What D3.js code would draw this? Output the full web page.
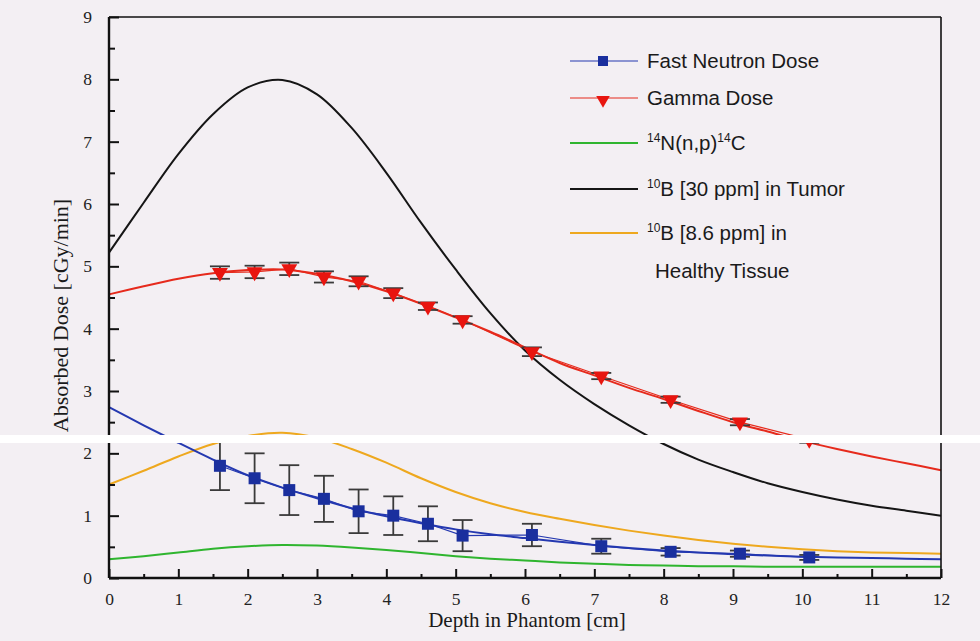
<!DOCTYPE html>
<html>
<head>
<meta charset="utf-8">
<script src="https://cdn.jsdelivr.net/npm/d3@7"></script>
<style>
  body { margin: 0; background: #f3eff3; }
  svg { display: block; }
</style>
</head>
<body>
<svg id="chart"></svg>
<script>
// depth grid for the fitted curves (cm)
var depthGrid = [0, 0.5, 1, 1.5, 2, 2.5, 3, 3.5, 4, 4.5, 5, 5.5, 6, 6.5, 7, 7.5, 8, 8.5, 9, 9.5, 10, 10.5, 11, 11.5, 12];

var tumorB10   = [5.22, 6.02, 6.8, 7.44, 7.87, 7.99, 7.76, 7.22, 6.5, 5.7, 4.95, 4.25, 3.65, 3.18, 2.79, 2.45, 2.15, 1.9, 1.7, 1.52, 1.38, 1.26, 1.16, 1.08, 1.0];
var healthyB10 = [1.5, 1.72, 1.95, 2.15, 2.28, 2.33, 2.25, 2.07, 1.85, 1.6, 1.38, 1.2, 1.06, 0.95, 0.85, 0.76, 0.68, 0.61, 0.55, 0.5, 0.46, 0.43, 0.41, 0.4, 0.39];
var nitrogen   = [0.3, 0.35, 0.41, 0.47, 0.51, 0.53, 0.52, 0.49, 0.45, 0.4, 0.35, 0.31, 0.28, 0.25, 0.23, 0.21, 0.2, 0.19, 0.19, 0.18, 0.18, 0.18, 0.18, 0.18, 0.18];
var neutronFit = [2.74, 2.45, 2.17, 1.9, 1.65, 1.45, 1.28, 1.12, 0.99, 0.88, 0.78, 0.7, 0.64, 0.58, 0.53, 0.48, 0.44, 0.41, 0.38, 0.36, 0.34, 0.33, 0.32, 0.31, 0.3];
var gammaFit   = [4.55, 4.68, 4.8, 4.89, 4.94, 4.95, 4.88, 4.76, 4.6, 4.4, 4.18, 3.95, 3.7, 3.45, 3.25, 3.05, 2.87, 2.68, 2.5, 2.35, 2.2, 2.07, 1.95, 1.84, 1.73];

// measured points
var measDepth   = [1.6, 2.1, 2.6, 3.1, 3.6, 4.1, 4.6, 5.1, 6.1, 7.1, 8.1, 9.1, 10.1];
var neutronMeas = [1.8, 1.6, 1.41, 1.27, 1.07, 1.0, 0.87, 0.68, 0.69, 0.51, 0.42, 0.39, 0.33];
var neutronErr  = [0.39, 0.4, 0.4, 0.37, 0.35, 0.31, 0.28, 0.25, 0.18, 0.12, 0.06, 0.05, 0.04];
var gammaMeas   = [4.9, 4.91, 4.96, 4.83, 4.76, 4.57, 4.36, 4.14, 3.63, 3.24, 2.86, 2.5, 2.22];
var gammaErr    = [0.1, 0.1, 0.1, 0.09, 0.08, 0.08, 0.06, 0.06, 0.07, 0.05, 0.05, 0.05, 0.05];

var xTicks = [0, 1, 2, 3, 4, 5, 6, 7, 8, 9, 10, 11, 12];
var yTicks = [0, 1, 2, 3, 4, 5, 6, 7, 8, 9];

var width = 980, height = 641;
var margin = {top: 17, right: 39, bottom: 63, left: 109};

var svg = d3.select("#chart").attr("width", width).attr("height", height);

var x = d3.scaleLinear().domain([0, 12]).range([margin.left, width - margin.right]);
var y = d3.scaleLinear().domain([0, 9]).range([height - margin.bottom, margin.top]);

var serif = "'Liberation Serif', 'DejaVu Serif', serif";
var sans = "'Liberation Sans', Arial, sans-serif";

var colors = {
  neutron: "#2438b0",
  gamma: "#e62a1c",
  nitrogen: "#2fb52f",
  tumor: "#151515",
  healthy: "#eea81e"
};

// curves
var line = d3.line()
  .x(function(d) { return x(d[0]); })
  .y(function(d) { return y(d[1]); })
  .curve(d3.curveCatmullRom.alpha(0.5));

function pairs(xs, ys) {
  return xs.map(function(v, i) { return [v, ys[i]]; });
}

var curves = svg.append("g");
curves.append("path").datum(pairs(depthGrid, nitrogen))
  .attr("fill", "none").attr("stroke", colors.nitrogen).attr("stroke-width", 2).attr("d", line);
curves.append("path").datum(pairs(depthGrid, healthyB10))
  .attr("fill", "none").attr("stroke", colors.healthy).attr("stroke-width", 2).attr("d", line);
curves.append("path").datum(pairs(depthGrid, tumorB10))
  .attr("fill", "none").attr("stroke", colors.tumor).attr("stroke-width", 2).attr("d", line);
curves.append("path").datum(pairs(depthGrid, gammaFit))
  .attr("fill", "none").attr("stroke", colors.gamma).attr("stroke-width", 2).attr("d", line);
curves.append("path").datum(pairs(depthGrid, neutronFit))
  .attr("fill", "none").attr("stroke", colors.neutron).attr("stroke-width", 2).attr("d", line);

// measured series: connecting lines
var straight = d3.line()
  .x(function(d) { return x(d[0]); })
  .y(function(d) { return y(d[1]); });
curves.append("path").datum(pairs(measDepth, gammaMeas))
  .attr("fill", "none").attr("stroke", colors.gamma).attr("stroke-width", 1.2).attr("d", straight);
curves.append("path").datum(pairs(measDepth, neutronMeas))
  .attr("fill", "none").attr("stroke", colors.neutron).attr("stroke-width", 1.2).attr("d", straight);

// error bars
function errorBars(vals, errs, capW, col) {
  var g = svg.append("g").attr("stroke", col).attr("stroke-width", 1.8);
  measDepth.forEach(function(d, i) {
    var cx = x(d), y1 = y(vals[i] + errs[i]), y2 = y(vals[i] - errs[i]);
    g.append("line").attr("x1", cx).attr("x2", cx).attr("y1", y1).attr("y2", y2);
    g.append("line").attr("x1", cx - capW / 2).attr("x2", cx + capW / 2).attr("y1", y1).attr("y2", y1);
    g.append("line").attr("x1", cx - capW / 2).attr("x2", cx + capW / 2).attr("y1", y2).attr("y2", y2);
  });
}
errorBars(neutronMeas, neutronErr, 20, "#3a3a3a");
errorBars(gammaMeas, gammaErr, 20, "#3a3a3a");

// markers
svg.append("g").selectAll("rect")
  .data(measDepth)
  .join("rect")
  .attr("x", function(d) { return x(d) - 6; })
  .attr("y", function(d, i) { return y(neutronMeas[i]) - 6; })
  .attr("width", 12).attr("height", 12)
  .attr("fill", "#1a2f9e");

var tri = d3.symbol().type(d3.symbolTriangle).size(110);
svg.append("g").selectAll("path")
  .data(measDepth)
  .join("path")
  .attr("d", tri)
  .attr("transform", function(d, i) { return "translate(" + x(d) + "," + y(gammaMeas[i]) + ") rotate(180)"; })
  .attr("fill", "#e8150f");

// frame
var frame = svg.append("g").attr("fill", "none").attr("stroke", "#111");
frame.append("line").attr("x1", x(0)).attr("x2", x(12)).attr("y1", y(9)).attr("y2", y(9)).attr("stroke-width", 1.6);
frame.append("line").attr("x1", x(12)).attr("x2", x(12)).attr("y1", y(9)).attr("y2", y(0)).attr("stroke-width", 1.6);
frame.append("line").attr("x1", x(0)).attr("x2", x(0)).attr("y1", y(9)).attr("y2", y(0)).attr("stroke-width", 2.4);
frame.append("line").attr("x1", x(0)).attr("x2", x(12)).attr("y1", y(0)).attr("y2", y(0)).attr("stroke-width", 2.4);

// axes, ticks pointing inward
var xAxis = d3.axisBottom(x).tickValues(xTicks).tickSize(-9).tickPadding(15).tickFormat(d3.format("d"));
var gx = svg.append("g").attr("transform", "translate(0," + y(0) + ")").call(xAxis);
gx.select(".domain").remove();
gx.selectAll(".tick line").attr("stroke", "#111").attr("stroke-width", 2);
gx.selectAll("text").attr("font-family", serif).attr("font-size", 17.5).attr("fill", "#222");
svg.append("g").attr("transform", "translate(0," + y(0) + ")")
  .call(d3.axisBottom(x).tickValues(d3.range(0.5, 12, 1)).tickSize(-4).tickFormat(""))
  .call(function(g) { g.select(".domain").remove(); g.selectAll("line").attr("stroke", "#111").attr("stroke-width", 2); });

var yAxis = d3.axisLeft(y).tickValues(yTicks).tickSize(-10).tickPadding(17).tickFormat(d3.format("d"));
var gy = svg.append("g").attr("transform", "translate(" + x(0) + ",0)").call(yAxis);
gy.select(".domain").remove();
gy.selectAll(".tick line").attr("stroke", "#111").attr("stroke-width", 2);
gy.selectAll("text").attr("font-family", serif).attr("font-size", 17.5).attr("fill", "#222");
svg.append("g").attr("transform", "translate(" + x(0) + ",0)")
  .call(d3.axisLeft(y).tickValues(d3.range(0.5, 9, 1)).tickSize(-6).tickFormat(""))
  .call(function(g) { g.select(".domain").remove(); g.selectAll("line").attr("stroke", "#111").attr("stroke-width", 2); });

// axis titles
svg.append("text")
  .attr("x", (x(0) + x(12)) / 2 + 2).attr("y", 627)
  .attr("text-anchor", "middle")
  .attr("font-family", serif).attr("font-size", 21).attr("fill", "#1a1a1a")
  .text("Depth in Phantom [cm]");
svg.append("text")
  .attr("transform", "translate(68," + ((y(0) + y(9)) / 2 + 18) + ") rotate(-90)")
  .attr("text-anchor", "middle")
  .attr("font-family", serif).attr("font-size", 22).attr("fill", "#1a1a1a")
  .text("Absorbed Dose [cGy/min]");

// legend
var legendItems = [
  {key: "neutron", y: 61, marker: "square", parts: [["", "Fast Neutron Dose"]]},
  {key: "gamma", y: 98, marker: "triangle", parts: [["", "Gamma Dose"]]},
  {key: "nitrogen", y: 143, marker: null, parts: [["14", "N(n,p)"], ["14", "C"]]},
  {key: "tumor", y: 189, marker: null, parts: [["10", "B [30 ppm] in Tumor"]]},
  {key: "healthy", y: 233, marker: null, parts: [["10", "B [8.6 ppm] in"]]}
];

var legend = svg.append("g");
legendItems.forEach(function(it) {
  legend.append("line")
    .attr("x1", 570).attr("x2", 638).attr("y1", it.y).attr("y2", it.y)
    .attr("stroke", colors[it.key]).attr("stroke-width", it.marker ? 1.2 : 2);
  if (it.marker === "square") {
    legend.append("rect").attr("x", 598).attr("y", it.y - 5).attr("width", 10).attr("height", 10).attr("fill", "#1a2f9e");
  } else if (it.marker === "triangle") {
    legend.append("path").attr("d", d3.symbol().type(d3.symbolTriangle).size(80))
      .attr("transform", "translate(603," + (it.y + 2) + ") rotate(180)").attr("fill", "#e8150f");
  }
  var t = legend.append("text")
    .attr("x", 647).attr("y", it.y + 7)
    .attr("font-family", sans).attr("font-size", 20.5).attr("fill", "#1a1a1a");
  it.parts.forEach(function(p) {
    if (p[0]) {
      t.append("tspan").attr("font-size", 12).attr("dy", -8).text(p[0]);
      t.append("tspan").attr("dy", 8).text(p[1]);
    } else {
      t.append("tspan").text(p[1]);
    }
  });
});
legend.append("text")
  .attr("x", 655).attr("y", 278)
  .attr("font-family", sans).attr("font-size", 20.5).attr("fill", "#1a1a1a")
  .text("Healthy Tissue");

// scan band across the picture
svg.append("rect").attr("x", 0).attr("y", 435).attr("width", width).attr("height", 8).attr("fill", "#ffffff");
</script>
</body>
</html>
